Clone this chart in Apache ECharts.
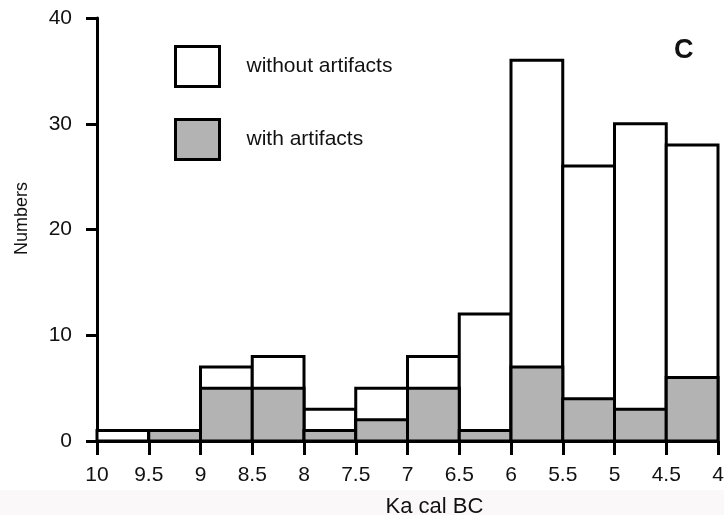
<!DOCTYPE html>
<html>
<head>
<meta charset="utf-8">
<script src="https://cdn.jsdelivr.net/npm/echarts@6/dist/echarts.min.js"></script>
<style>html,body{margin:0;padding:0;background:#fff;}#c{width:724px;height:515px;}</style>
</head>
<body>
<div id="c"></div>
<script>
// Bin edges (Ka cal BC), left and right of each bar
var binLeft  = [10, 9.5, 9, 8.5, 8, 7.5, 7, 6.5, 6, 5.5, 5, 4.5];
var binRight = [9.5, 9, 8.5, 8, 7.5, 7, 6.5, 6, 5.5, 5, 4.5, 4];
// Totals (outline height) and counts with artifacts (gray)
var totalCounts    = [1, 1, 7, 8, 3, 5, 8, 12, 36, 26, 30, 28];
var artifactCounts = [0, 1, 5, 5, 1, 2, 5, 1, 7, 4, 3, 6];
var yTicks = [0, 10, 20, 30, 40];

var FONT = '"Liberation Sans", Arial, sans-serif';

function mk(vals) {
  return binLeft.map(function (l, i) { return [l, binRight[i], vals[i]]; });
}
function renderBar(fill) {
  return function (params, api) {
    if (api.value(2) <= 0) return null;
    var p0 = api.coord([api.value(0), 0]);
    var p1 = api.coord([api.value(1), api.value(2)]);
    var x = Math.min(p0[0], p1[0]);
    var w = Math.abs(p1[0] - p0[0]);
    var h = p0[1] - p1[1];
    return {
      type: 'rect',
      shape: { x: x, y: p1[1], width: w, height: h },
      style: { fill: fill, stroke: '#000', lineWidth: 3 }
    };
  };
}

var chart = echarts.init(document.getElementById('c'), null, { renderer: 'canvas' });
chart.setOption({
  backgroundColor: '#fff',
  animation: false,
  grid: { left: 97, right: 6, top: 18, bottom: 74, outerBoundsMode: 'none', containLabel: false },
  legend: {
    orient: 'vertical',
    left: 174, top: 45, padding: 0,
    itemWidth: 44, itemHeight: 40, itemGap: 30,
    textStyle: { fontFamily: FONT, fontSize: 21, color: '#111', padding: [0, 0, 0, 22] },
    data: [
      { name: 'without artifacts', icon: 'rect', itemStyle: { color: '#fff', borderColor: '#000', borderWidth: 3 } },
      { name: 'with artifacts', icon: 'rect', itemStyle: { color: '#b3b3b3', borderColor: '#000', borderWidth: 3 } }
    ]
  },
  xAxis: {
    type: 'value', inverse: true, min: 4, max: 10, interval: 0.5,
    name: 'Ka cal BC', nameLocation: 'middle', nameGap: 55,
    nameTextStyle: { fontFamily: FONT, fontSize: 22, color: '#111', padding: [0, 0, 0, 54] },
    axisLine: { lineStyle: { color: '#000', width: 3 } },
    axisTick: { show: true, length: 14, lineStyle: { color: '#000', width: 3 } },
    axisLabel: { fontFamily: FONT, fontSize: 21, color: '#111', margin: 24 },
    splitLine: { show: false }
  },
  yAxis: {
    type: 'value', min: yTicks[0], max: yTicks[yTicks.length - 1], interval: 10,
    name: 'Numbers', nameLocation: 'middle', nameGap: 66,
    nameTextStyle: { fontFamily: FONT, fontSize: 18, color: '#111', padding: [0, 0, 0, 22] },
    axisLine: { show: true, lineStyle: { color: '#000', width: 3 } },
    axisTick: { show: true, length: 11, lineStyle: { color: '#000', width: 3 } },
    axisLabel: { fontFamily: FONT, fontSize: 21, color: '#111', margin: 25 },
    splitLine: { show: false }
  },
  graphic: [
    { type: 'rect', z: -10, shape: { x: 0, y: 490, width: 724, height: 25 }, style: { fill: '#fbf8f9' } },
    { type: 'text', left: 674, top: 37, style: { text: 'C', font: 'bold 27px ' + FONT, fill: '#111' } }
  ],
  series: [
    { name: 'without artifacts', type: 'custom', z: 2, renderItem: renderBar('#fff'),
      encode: { x: [0, 1], y: 2 }, data: mk(totalCounts) },
    { name: 'with artifacts', type: 'custom', z: 3, renderItem: renderBar('#b3b3b3'),
      encode: { x: [0, 1], y: 2 }, data: mk(artifactCounts) }
  ]
});
</script>
</body>
</html>
